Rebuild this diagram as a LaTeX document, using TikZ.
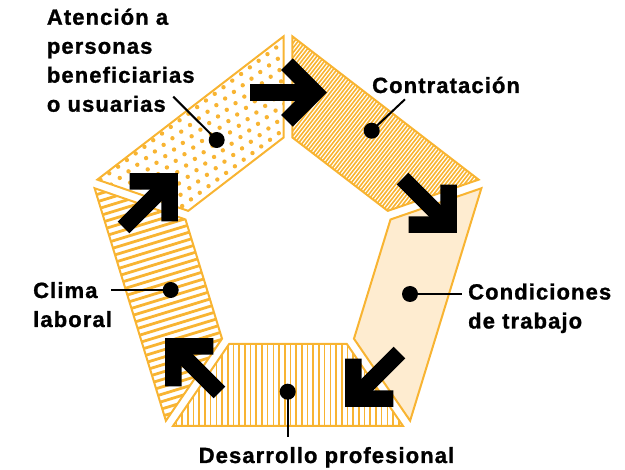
\documentclass[tikz,border=0pt]{standalone}
\usepackage{fontspec}
\newfontfamily\lblfont{Liberation Sans Bold}[LetterSpace=5.0, FakeBold=1.2]
\usetikzlibrary{calc}
\definecolor{gold}{RGB}{248,180,50}
\definecolor{peach}{RGB}{254,236,208}
\newcommand\segpts[3]{%
  \coordinate (#1a) at ($(O#2)!\gp!(O#3)$);
  \coordinate (#1b) at ($(O#3)!\gp!(O#2)$);
  \coordinate (#1c) at ($(I#3)!\gp!(I#2)$);
  \coordinate (#1d) at ($(I#2)!\gp!(I#3)$);}
\newcommand\bigarrow[2]{%
  \begin{scope}[shift={(#1)}, rotate=#2]
    \draw[blk] (-77,0) -- (-11.7,0);
    \draw[blk] (-40,-28.3) -- (-11.7,0) -- (-40,28.3);
  \end{scope}}
\begin{document}
\begin{tikzpicture}[x=1pt,y=-1pt,
  seg/.style={draw=gold, line width=2pt, line join=miter},
  leader/.style={line width=2pt, black},
  dotmark/.style={circle, fill=black, inner sep=0pt, minimum size=16pt},
  lbl/.style={font=\lblfont\fontsize{22}{29}\selectfont, inner sep=0pt, align=left},
  blk/.style={line width=16.5pt, black, line cap=butt, line join=miter}]
\useasboundingbox (0,0) rectangle (625,470);
\def\gp{5.5pt}
% outer pentagon
\coordinate (O0) at (288,33);
\coordinate (O1) at (483,183);
\coordinate (O2) at (408.5,426);
\coordinate (O3) at (167.5,426);
\coordinate (O4) at (93,183);
\coordinate (Cc) at (288,250);
\coordinate (I0) at ($(Cc)!0.534!(O0)$);
\coordinate (I1) at ($(Cc)!0.534!(O1)$);
\coordinate (I2) at ($(Cc)!0.534!(O2)$);
\coordinate (I3) at ($(Cc)!0.534!(O3)$);
\coordinate (I4) at ($(Cc)!0.534!(O4)$);
\segpts{sA}{4}{0}
\segpts{sB}{0}{1}
\segpts{sC}{1}{2}
\segpts{sD}{2}{3}
\segpts{sE}{3}{4}

% --- Atencion: dots
\begin{scope}
  \clip (sAa) -- (sAb) -- (sAc) -- (sAd) -- cycle;
  \begin{scope}[shift={(190,125)}, rotate=37]
    \foreach \i in {-15,...,15}
      \foreach \j in {-16,...,16}
        \fill[gold] ({11*\i+5.5*mod(\j,2)},{10*\j}) circle[radius=2.2pt];
  \end{scope}
\end{scope}
\draw[seg] (sAa) -- (sAb) -- (sAc) -- (sAd) -- cycle;

% --- Contratacion: dense hatch
\begin{scope}
  \clip (sBa) -- (sBb) -- (sBc) -- (sBd) -- cycle;
  \begin{scope}[shift={(385,125)}, rotate=52]
    \foreach \k in {-50,...,50}
      \draw[gold, line width=1.6pt] (-200,3*\k) -- (200,3*\k);
  \end{scope}
\end{scope}
\draw[seg] (sBa) -- (sBb) -- (sBc) -- (sBd) -- cycle;

% --- Condiciones: solid peach
\draw[seg, fill=peach] (sCa) -- (sCb) -- (sCc) -- (sCd) -- cycle;

% --- Desarrollo: vertical lines
\begin{scope}
  \clip (sDa) -- (sDb) -- (sDc) -- (sDd) -- cycle;
  \foreach \k in {0,...,44}
    \draw[gold, line width=1.6pt] ({165+5.7*\k},330) -- ({165+5.7*\k},430);
\end{scope}
\draw[seg] (sDa) -- (sDb) -- (sDc) -- (sDd) -- cycle;

% --- Clima: slanted stripes
\begin{scope}
  \clip (sEa) -- (sEb) -- (sEc) -- (sEd) -- cycle;
  \begin{scope}[shift={(135,300)}, rotate=17]
    \foreach \k in {-22,...,22}
      \draw[gold, line width=2.8pt] (-160,7*\k) -- (160,7*\k);
  \end{scope}
\end{scope}
\draw[seg] (sEa) -- (sEb) -- (sEc) -- (sEd) -- cycle;

% --- leaders and dots
\node[dotmark] (dA) at (216.7,140) {};
\coordinate (eA) at (173.3,96.7);
\draw[leader] (dA.center) -- (eA);
\node[dotmark] (dB) at (371.7,130.7) {};
\coordinate (eB) at (405,99.3);
\draw[leader] (dB.center) -- (eB);
\node[dotmark] (dC) at (410,294) {};
\coordinate (eC) at (461.7,294);
\draw[leader] (dC.center) -- (eC);
\node[dotmark] (dD) at (287.7,391.7) {};
\coordinate (eD) at (287.7,437);
\draw[leader] (dD.center) -- (eD);
\node[dotmark] (dE) at (170.7,290) {};
\coordinate (eE) at (110.7,290);
\draw[leader] (dE.center) -- (eE);

% --- arrows
\coordinate (tA) at (327,92.5);
\coordinate (tB) at (457,233);
\coordinate (tC) at (345,407);
\coordinate (tD) at (165,338);
\coordinate (tE) at (178,173);
\bigarrow{tA}{0}
\bigarrow{tB}{-45}
\bigarrow{tC}{-135}
\bigarrow{tD}{135}
\bigarrow{tE}{45}

% --- labels (base = baseline of last line)
\node[lbl, anchor=base west] (lA) at (46.7,111.7) {Atención a\\personas\\beneficiarias\\o usuarias};
\node[lbl, anchor=base west] (lB) at (372,93) {Contratación};
\node[lbl, anchor=base west] (lC) at (468,328.5) {Condiciones\\de trabajo};
\node[lbl, anchor=base west] (lD) at (33,327) {Clima\\laboral};
\node[lbl, anchor=base] (lE) at (326.5,463) {Desarrollo profesional};
\end{tikzpicture}
\end{document}
